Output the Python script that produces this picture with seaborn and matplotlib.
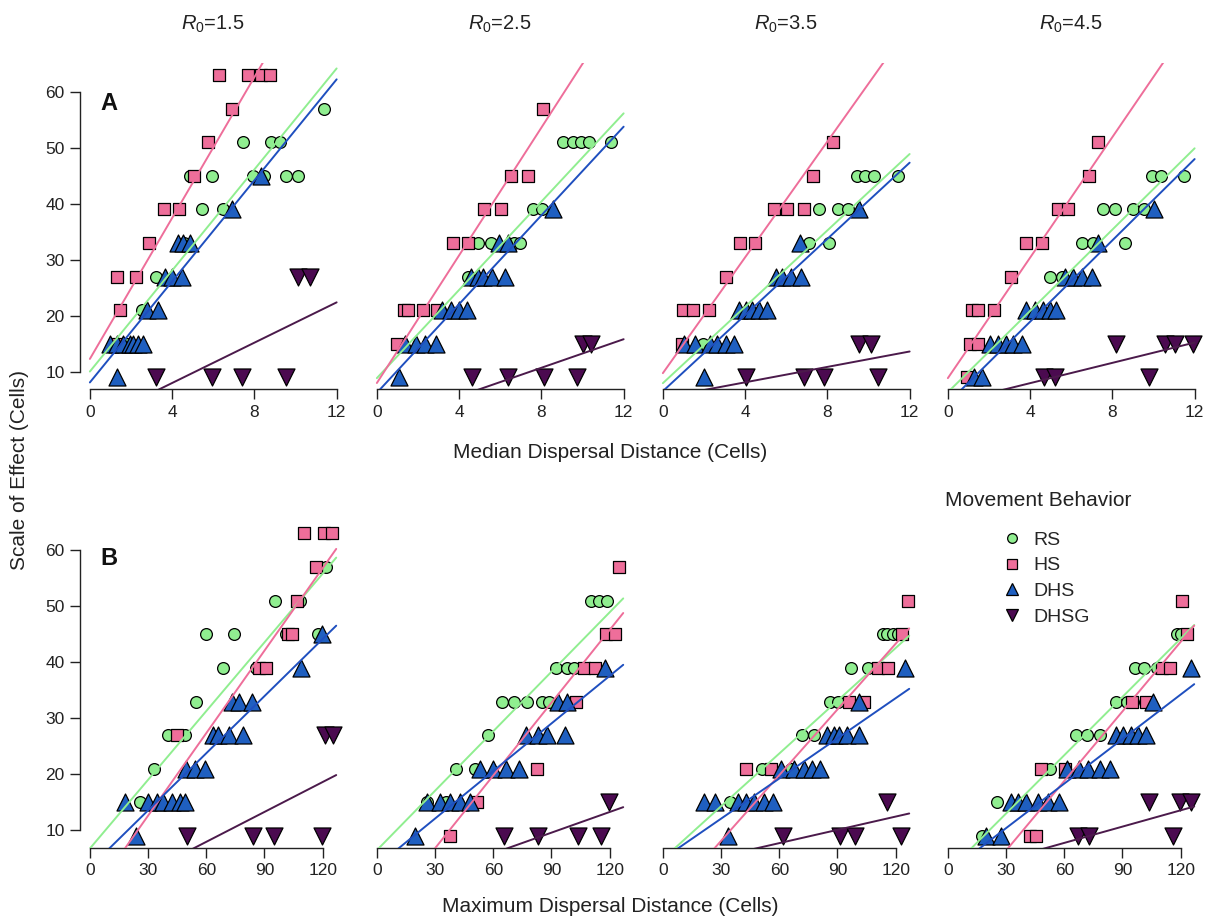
import pandas as pd
import matplotlib
matplotlib.use("Agg")
import matplotlib.pyplot as plt
from matplotlib.lines import Line2D
import seaborn as sns

R0_VALUES = [1.5, 2.5, 3.5, 4.5]
BEHAVIORS = ["RS", "HS", "DHS", "DHSG"]

# median dispersal distance (row A): {R0: (x, scale of effect)}
rs_med = {
    1.5: ([11.39, 7.46, 8.80, 9.24, 4.86, 5.96, 7.91, 8.48, 9.56, 10.13, 5.46, 6.45, 4.6, 3.21, 2.54, 1.8],
          [57, 51, 51, 51, 45, 45, 45, 45, 45, 45, 39, 39, 33, 27, 21, 15]),
    2.5: ([9.03, 9.52, 9.93, 10.33, 11.4, 7.59, 8.03, 4.9, 5.55, 6.69, 6.97, 4.41, 3.05],
          [51, 51, 51, 51, 51, 39, 39, 33, 33, 33, 33, 27, 21]),
    3.5: ([9.45, 9.85, 10.29, 11.43, 7.61, 8.53, 9.02, 7.12, 8.09, 1.95],
          [45, 45, 45, 45, 39, 39, 39, 33, 33, 15]),
    4.5: ([9.92, 10.37, 11.46, 7.53, 8.13, 9.02, 9.56, 6.5, 7.07, 8.62, 4.96, 5.53, 0.98],
          [45, 45, 45, 39, 39, 39, 39, 33, 33, 33, 27, 27, 9]),
}
hs_med = {
    1.5: ([6.29, 7.67, 8.31, 8.78, 6.89, 5.75, 5.07, 3.61, 4.33, 2.87, 1.33, 2.22, 1.46, 1.3],
          [63, 63, 63, 63, 57, 51, 45, 39, 39, 33, 27, 27, 21, 15]),
    2.5: ([8.08, 6.53, 7.35, 5.19, 6.04, 3.72, 4.44, 1.3, 1.5, 2.24, 2.9, 0.98],
          [57, 45, 45, 39, 39, 33, 33, 21, 21, 21, 21, 15]),
    3.5: ([8.26, 7.31, 5.41, 6.03, 6.84, 3.75, 4.48, 3.05, 0.96, 1.45, 2.26, 0.93],
          [51, 45, 39, 39, 39, 33, 33, 27, 21, 21, 21, 15]),
    4.5: ([7.32, 6.86, 5.37, 5.82, 3.82, 4.59, 3.09, 1.17, 1.46, 2.24, 1.06, 1.46, 0.93],
          [51, 45, 39, 39, 33, 33, 27, 21, 21, 21, 15, 15, 9]),
}
dhs_med = {
    1.5: ([8.31, 6.92, 4.30, 4.54, 4.86, 3.65, 3.97, 4.49, 2.76, 3.29, 0.97, 1.30, 1.62, 1.94, 2.10, 2.35, 2.59, 1.30],
          [45, 39, 33, 33, 33, 27, 27, 27, 21, 21, 15, 15, 15, 15, 15, 15, 15, 9]),
    2.5: ([8.57, 5.96, 6.37, 4.57, 4.9, 5.18, 5.6, 6.25, 3.18, 3.59, 3.97, 4.36, 1.39, 1.88, 2.33, 2.89, 1.06],
          [39, 33, 33, 27, 27, 27, 27, 27, 21, 21, 21, 21, 15, 15, 15, 15, 9]),
    3.5: ([9.56, 6.66, 5.49, 5.81, 6.22, 6.71, 3.7, 4.02, 4.35, 4.67, 5.08, 1.01, 1.58, 2.31, 2.64, 3.09, 3.45, 1.99],
          [39, 33, 27, 27, 27, 27, 21, 21, 21, 21, 21, 15, 15, 15, 15, 15, 15, 9]),
    4.5: ([10.0, 7.32, 5.69, 6.1, 6.5, 6.99, 3.82, 4.23, 4.63, 4.96, 5.28, 2.03, 2.44, 2.85, 3.17, 3.61, 1.27, 1.67],
          [39, 33, 27, 27, 27, 27, 21, 21, 21, 21, 21, 15, 15, 15, 15, 15, 9, 9]),
}
dhsg_med = {
    1.5: ([10.1, 10.7, 3.24, 5.92, 7.41, 9.53], [27, 27, 9, 9, 9, 9]),
    2.5: ([10.0, 10.4, 4.62, 6.37, 8.13, 9.75], [15, 15, 9, 9, 9, 9]),
    3.5: ([9.56, 10.13, 4.06, 6.87, 7.82, 10.46], [15, 15, 9, 9, 9, 9]),
    4.5: ([8.18, 10.57, 11.06, 11.92, 4.68, 5.2, 9.8], [15, 15, 15, 15, 9, 9, 9]),
}

# maximum dispersal distance (row B)
rs_max = {
    1.5: ([121.5, 95.4, 108.3, 59.7, 74.4, 100.9, 117.4, 68.4, 85.6, 54.7, 40.4, 49.0, 33.0, 25.8],
          [57, 51, 51, 45, 45, 45, 45, 39, 39, 33, 27, 27, 21, 15]),
    2.5: ([110.3, 114.5, 118.6, 92.3, 97.8, 101.7, 64.4, 70.8, 77.6, 85.0, 88.9, 57.1, 41.0, 50.8, 25.6, 35.4],
          [51, 51, 51, 39, 39, 39, 33, 33, 33, 33, 33, 27, 21, 21, 15, 15]),
    3.5: ([113.7, 115.7, 118.5, 121.4, 97.1, 105.5, 86.3, 90.3, 71.8, 77.8, 51.3, 65.8, 34.5],
          [45, 45, 45, 45, 39, 39, 33, 33, 27, 27, 21, 21, 15]),
    4.5: ([118.1, 120.3, 96.3, 100.9, 107.8, 86.8, 92.5, 101.4, 66.2, 71.9, 78.2, 52.4, 25.3, 17.7],
          [45, 45, 39, 39, 39, 33, 33, 33, 27, 27, 27, 21, 15, 9]),
}
hs_max = {
    1.5: ([110.4, 120.7, 125.0, 116.4, 106.6, 101.9, 104.3, 87.2, 90.6, 44.7],
          [63, 63, 63, 57, 51, 45, 45, 39, 39, 27]),
    2.5: ([124.6, 118.3, 122.6, 106.8, 112.3, 102.6, 82.4, 51.6, 37.9],
          [57, 45, 45, 39, 39, 33, 21, 15, 9]),
    3.5: ([126.5, 123.1, 110.8, 116.2, 95.7, 103.9, 42.7, 55.9],
          [51, 45, 39, 39, 33, 33, 21, 21]),
    4.5: ([120.9, 123.3, 110.5, 114.3, 94.9, 102.3, 47.8, 60.2, 42.1, 45.6],
          [51, 45, 39, 39, 33, 33, 21, 21, 9, 9]),
}
dhs_max = {
    1.5: ([119.8, 108.8, 73.1, 77.0, 83.4, 63.3, 66.2, 71.9, 79.1, 49.5, 54.2, 59.3, 18.1, 30.1, 34.4, 37.8, 42.1, 46.4, 49.0, 23.7],
          [45, 39, 33, 33, 33, 27, 27, 27, 27, 21, 21, 21, 15, 15, 15, 15, 15, 15, 15, 9]),
    2.5: ([117.8, 93.2, 97.8, 76.8, 82.9, 87.5, 96.9, 53.3, 59.8, 66.5, 73.3, 25.6, 32.3, 37.9, 43.1, 48.2, 19.7],
          [39, 33, 33, 27, 27, 27, 27, 21, 21, 21, 21, 15, 15, 15, 15, 15, 9]),
    3.5: ([124.8, 100.9, 84.6, 88.0, 90.6, 94.9, 100.9, 60.7, 67.5, 72.6, 76.9, 81.2, 21.0, 26.8, 38.5, 42.7, 47.0, 52.1, 56.9, 33.8],
          [39, 33, 27, 27, 27, 27, 27, 21, 21, 21, 21, 21, 15, 15, 15, 15, 15, 15, 15, 9]),
    4.5: ([125.1, 105.7, 86.8, 90.3, 94.5, 98.0, 102.3, 61.5, 67.4, 72.2, 78.2, 83.7, 32.7, 36.1, 40.4, 46.4, 51.6, 57.1, 19.8, 27.5],
          [39, 33, 27, 27, 27, 27, 27, 21, 21, 21, 21, 21, 15, 15, 15, 15, 15, 15, 9, 9]),
}
dhsg_max = {
    1.5: ([121.2, 125.5, 50.2, 84.2, 95.1, 119.5], [27, 27, 9, 9, 9, 9]),
    2.5: ([119.7, 65.6, 83.2, 103.8, 115.7], [15, 9, 9, 9, 9]),
    3.5: ([115.7, 62.1, 91.5, 99.1, 122.6], [15, 9, 9, 9, 9]),
    4.5: ([103.7, 119.5, 125.5, 67.0, 72.5, 116.0], [15, 15, 15, 9, 9, 9]),
}

# fitted regression lines (intercept, slope) per R0
fit_med_int = {"RS": [10.05, 8.87, 7.97, 6.35], "HS": [12.3, 8.0, 9.76, 8.87],
               "DHS": [8.1, 6.25, 6.54, 4.43], "DHSG": [0.8, 0.52, 5.37, 4.35]}
fit_med_slope = {"RS": [4.51, 3.94, 3.41, 3.63], "HS": [6.29, 5.7, 5.17, 5.38],
                 "DHS": [4.51, 3.96, 3.40, 3.63], "DHSG": [1.80, 1.275, 0.688, 0.906]}
fit_max_int = {"RS": [6.75, 6.45, 4.87, 2.59], "HS": [-2.11, -6.19, -3.61, -6.03],
               "DHS": [3.36, 3.61, 4.91, 2.44], "DHSG": [-2.74, -1.49, 2.97, 1.93]}
fit_max_slope = {"RS": [0.409, 0.354, 0.314, 0.347], "HS": [0.491, 0.433, 0.391, 0.414],
                 "DHS": [0.340, 0.283, 0.239, 0.265], "DHSG": [0.178, 0.123, 0.079, 0.097]}

MED_TICKS = [0, 4, 8, 12]
MAX_TICKS = [0, 30, 60, 90, 120]
Y_TICKS = [10, 20, 30, 40, 50, 60]

rows = []
for dist, groups in [("median", [rs_med, hs_med, dhs_med, dhsg_med]),
                     ("max", [rs_max, hs_max, dhs_max, dhsg_max])]:
    for beh, d in zip(BEHAVIORS, groups):
        for r0, (xs, ys) in d.items():
            for x, y in zip(xs, ys):
                rows.append({"dist": dist, "behavior": beh, "r0": r0, "x": x, "y": y})
df = pd.DataFrame(rows)

FILL = {"RS": "#90EE90", "HS": "#EE6E9A", "DHS": "#1F5FC0", "DHSG": "#4B0A50"}
LINE = {"RS": "#90EE90", "HS": "#EE6E9A", "DHS": "#1F4FBF", "DHSG": "#4B1A4B"}
MARK = {"RS": "o", "HS": "s", "DHS": "^", "DHSG": "v"}
SIZE = {"RS": 72, "HS": 74, "DHS": 150, "DHSG": 150}

sns.set_style("ticks")
plt.rcParams["font.family"] = ["Liberation Sans", "DejaVu Sans"]
plt.rcParams["mathtext.fontset"] = "custom"
plt.rcParams["mathtext.it"] = "Liberation Sans:italic"
plt.rcParams["mathtext.rm"] = "Liberation Sans"

W, H = 1214, 921
fig = plt.figure(figsize=(W / 100, H / 100), dpi=100)
lefts = [80, 367, 653, 938]
bottoms = {"median": 1 - 389.5 / H, "max": 1 - 848 / H}
axw, axh = 266.5 / W, 326.6 / H

for dist in ["median", "max"]:
    ticks = MED_TICKS if dist == "median" else MAX_TICKS
    line_end = 12 if dist == "median" else 127
    xlim = (-0.48, 12.48) if dist == "median" else (-5.1, 132.3)
    f_int = fit_med_int if dist == "median" else fit_max_int
    f_slope = fit_med_slope if dist == "median" else fit_max_slope
    for col, r0 in enumerate(R0_VALUES):
        ax = fig.add_axes([lefts[col] / W, bottoms[dist], axw, axh])
        sub = df[(df["dist"] == dist) & (df["r0"] == r0)]
        for beh in BEHAVIORS:
            g = sub[sub["behavior"] == beh]
            sns.scatterplot(data=g, x="x", y="y", marker=MARK[beh], s=SIZE[beh],
                            color=FILL[beh], edgecolor="black", linewidth=0.9,
                            ax=ax, zorder=2, legend=False)
        for beh in BEHAVIORS:
            a, b = f_int[beh][col], f_slope[beh][col]
            fit = pd.DataFrame({"x": [0, line_end], "y": [a, a + b * line_end]})
            sns.lineplot(data=fit, x="x", y="y", color=LINE[beh], lw=1.4,
                         estimator=None, ax=ax, zorder=3)
        ax.set_xlim(*xlim)
        ax.set_ylim(6.84, 65.16)
        ax.set(xlabel="", ylabel="")
        ax.set_xticks(ticks)
        ax.set_yticks(Y_TICKS)
        for s in ["top", "right"]:
            ax.spines[s].set_visible(False)
        ax.spines["bottom"].set_bounds(ticks[0], ticks[-1])
        ax.spines["left"].set_bounds(10, 60)
        for s in ["bottom", "left"]:
            ax.spines[s].set_color("#222222")
            ax.spines[s].set_linewidth(1.0)
        ax.tick_params(direction="out", length=7, width=1.0, color="#222222",
                       labelsize=12.5, labelcolor="#222222", pad=4)
        if col > 0:
            ax.spines["left"].set_visible(False)
            ax.tick_params(left=False, labelleft=False)
        if dist == "median":
            ax.set_title(r"$R_0$=%.1f" % r0, fontsize=14.5, pad=24, color="#222222")

fig.text(100 / W, 1 - 103 / H, "A", fontsize=17, fontweight="bold", va="center", color="#111111")
fig.text(100 / W, 1 - 558 / H, "B", fontsize=17, fontweight="bold", va="center", color="#111111")
fig.text(610 / W, 1 - 452 / H, "Median Dispersal Distance (Cells)", fontsize=15,
         ha="center", va="center", color="#222222")
fig.text(610 / W, 1 - 906 / H, "Maximum Dispersal Distance (Cells)", fontsize=15,
         ha="center", va="center", color="#222222")
fig.text(20 / W, 1 - 470 / H, "Scale of Effect (Cells)", fontsize=15, rotation=90,
         ha="center", va="center", color="#222222")
fig.text(945 / W, 1 - 500 / H, "Movement Behavior", fontsize=15, ha="left", va="center",
         color="#222222")

handles = [Line2D([], [], ls="none", marker=MARK[b], markersize=7 if b in ("RS", "HS") else 9,
                  markerfacecolor=FILL[b], markeredgecolor="black", markeredgewidth=0.9)
           for b in BEHAVIORS]
fig.legend(handles, BEHAVIORS, loc="upper left", bbox_to_anchor=(1000 / W, 1 - 531 / H),
           frameon=False, fontsize=14, handletextpad=0.5, labelspacing=0.42,
           handlelength=1.2, borderaxespad=0, borderpad=0)

fig.savefig("out.png", dpi=100)
